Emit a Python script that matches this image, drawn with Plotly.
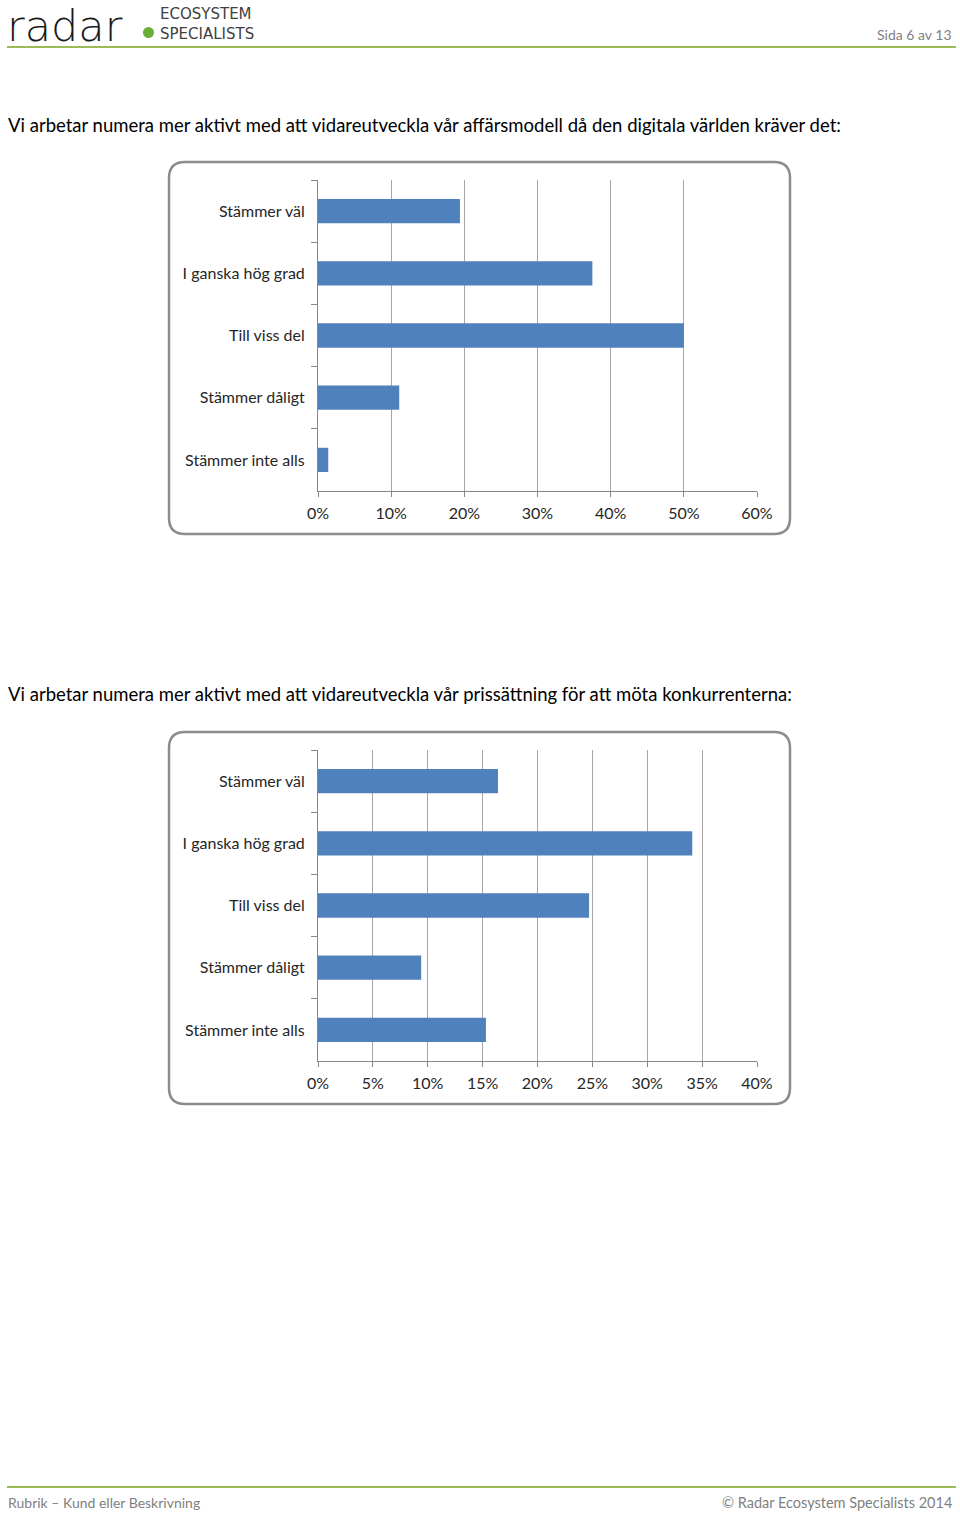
import plotly.graph_objects as go

# ---------------- data ----------------
categories = ["Stämmer väl", "I ganska hög grad", "Till viss del", "Stämmer dåligt", "Stämmer inte alls"]
values_model = [0.194, 0.375, 0.500, 0.111, 0.014]
values_price = [0.164, 0.341, 0.247, 0.094, 0.153]
title_model = "Vi arbetar numera mer aktivt med att vidareutveckla vår affärsmodell då den digitala världen kräver det:"
title_price = "Vi arbetar numera mer aktivt med att vidareutveckla vår prissättning för att möta konkurrenterna:"
ticks_model = [0, 0.1, 0.2, 0.3, 0.4, 0.5, 0.6]
ticks_price = [0, 0.05, 0.10, 0.15, 0.20, 0.25, 0.30, 0.35, 0.40]

# ---------------- layout helpers ----------------
W, H = 960, 1514
FONT = "Lato"
BAR = "#4f81bd"
GRID = "#a6a6a6"
AXIS = "#868686"
GREEN = "#9bbb59"


def px(x):
    return x / W


def py(y):
    return 1 - y / H


def rounded_rect(x0, y0, x1, y1, r):
    rx, ry = r / W, r / H
    X0, X1 = px(x0), px(x1)
    Y0, Y1 = py(y0), py(y1)  # Y0 top (larger), Y1 bottom
    return (
        f"M {X0 + rx},{Y0} L {X1 - rx},{Y0} Q {X1},{Y0} {X1},{Y0 - ry} "
        f"L {X1},{Y1 + ry} Q {X1},{Y1} {X1 - rx},{Y1} "
        f"L {X0 + rx},{Y1} Q {X0},{Y1} {X0},{Y1 + ry} "
        f"L {X0},{Y0 - ry} Q {X0},{Y0} {X0 + rx},{Y0} Z"
    )


fig = go.Figure()

fig.add_trace(go.Bar(x=values_model, y=categories, orientation="h", xaxis="x", yaxis="y",
                     marker=dict(color=BAR, line=dict(width=0)), showlegend=False))
fig.add_trace(go.Bar(x=values_price, y=categories, orientation="h", xaxis="x2", yaxis="y2",
                     marker=dict(color=BAR, line=dict(width=0)), showlegend=False))


def xaxis_cfg(anchor, ticks, rng):
    return dict(
        domain=[px(318), px(757)], anchor=anchor, range=rng, automargin=False,
        tickvals=ticks, tickformat=".0%", showgrid=True, gridcolor=GRID, gridwidth=1,
        zeroline=False, showline=True, linecolor=AXIS, linewidth=1,
        ticks="outside", ticklen=5, tickcolor=AXIS, ticklabelstandoff=3,
        tickfont=dict(family=FONT, size=16, color="#262626"), fixedrange=True,
    )


def yaxis_cfg(anchor, top, bottom):
    return dict(
        domain=[py(bottom), py(top)], anchor=anchor, type="category", automargin=False,
        categoryorder="array", categoryarray=categories, autorange="reversed",
        showgrid=False, zeroline=False, showline=True, linecolor=AXIS, linewidth=1,
        ticks="outside", ticklen=6, tickcolor=AXIS, tickson="boundaries",
        ticklabelstandoff=9,
        tickfont=dict(family=FONT, size=16, color="#262626"), fixedrange=True,
    )


shapes = [
    dict(type="path", xref="paper", yref="paper", path=rounded_rect(169, 162, 790, 534, 16),
         line=dict(color="#8c8c8c", width=2.5), fillcolor="rgba(0,0,0,0)", layer="below"),
    dict(type="path", xref="paper", yref="paper", path=rounded_rect(169, 732, 790, 1104, 16),
         line=dict(color="#8c8c8c", width=2.5), fillcolor="rgba(0,0,0,0)", layer="below"),
    dict(type="line", xref="paper", yref="paper", x0=px(7), x1=px(956), y0=py(47), y1=py(47),
         line=dict(color=GREEN, width=2)),
    dict(type="line", xref="paper", yref="paper", x0=px(7), x1=px(956), y0=py(1487), y1=py(1487),
         line=dict(color=GREEN, width=2)),
    dict(type="circle", xref="paper", yref="paper", x0=px(143), x1=px(154), y0=py(27), y1=py(38),
         fillcolor="#6aae3a", line=dict(width=0)),
]

annotations = [
    dict(text="radar", x=px(6), y=py(0), xanchor="left", yanchor="top", borderpad=0,
         font=dict(family="DejaVu Sans", size=43, color="#1a1a1a", weight=200)),
    dict(text="ECOSYSTEM<br>SPECIALISTS", x=px(159), y=py(24), xanchor="left", yanchor="middle",
         align="left", borderpad=0,
         font=dict(family="DejaVu Sans", size=15, color="#404040")),
    dict(text="Sida 6 av 13", x=px(954), y=py(35), xanchor="right", yanchor="middle",
         font=dict(family=FONT, size=14, color="#7f7f7f")),
    dict(text=title_model, x=px(6), y=py(125), xanchor="left", yanchor="middle",
         font=dict(family=FONT, size=18.5, color="#000000")),
    dict(text=title_price, x=px(6), y=py(694), xanchor="left", yanchor="middle",
         font=dict(family=FONT, size=18.5, color="#000000")),
    dict(text="Rubrik – Kund eller Beskrivning", x=px(6), y=py(1502), xanchor="left", yanchor="middle",
         font=dict(family=FONT, size=14, color="#7f7f7f")),
    dict(text="© Radar Ecosystem Specialists 2014", x=px(954), y=py(1502), xanchor="right", yanchor="middle",
         font=dict(family=FONT, size=14.5, color="#7f7f7f")),
]
for a in annotations:
    a.update(xref="paper", yref="paper", showarrow=False)

fig.update_layout(
    width=W, height=H, margin=dict(l=0, r=0, t=0, b=0, pad=0), autosize=False,
    paper_bgcolor="white", plot_bgcolor="white",
    bargap=0.61, showlegend=False,
    xaxis=xaxis_cfg("y", ticks_model, [0, 0.6]),
    yaxis=yaxis_cfg("x", 180, 491),
    xaxis2=xaxis_cfg("y2", ticks_price, [0, 0.4]),
    yaxis2=yaxis_cfg("x2", 750, 1061),
    shapes=shapes, annotations=annotations,
)

fig.write_html("out.html", config={"displayModeBar": False, "responsive": False})
